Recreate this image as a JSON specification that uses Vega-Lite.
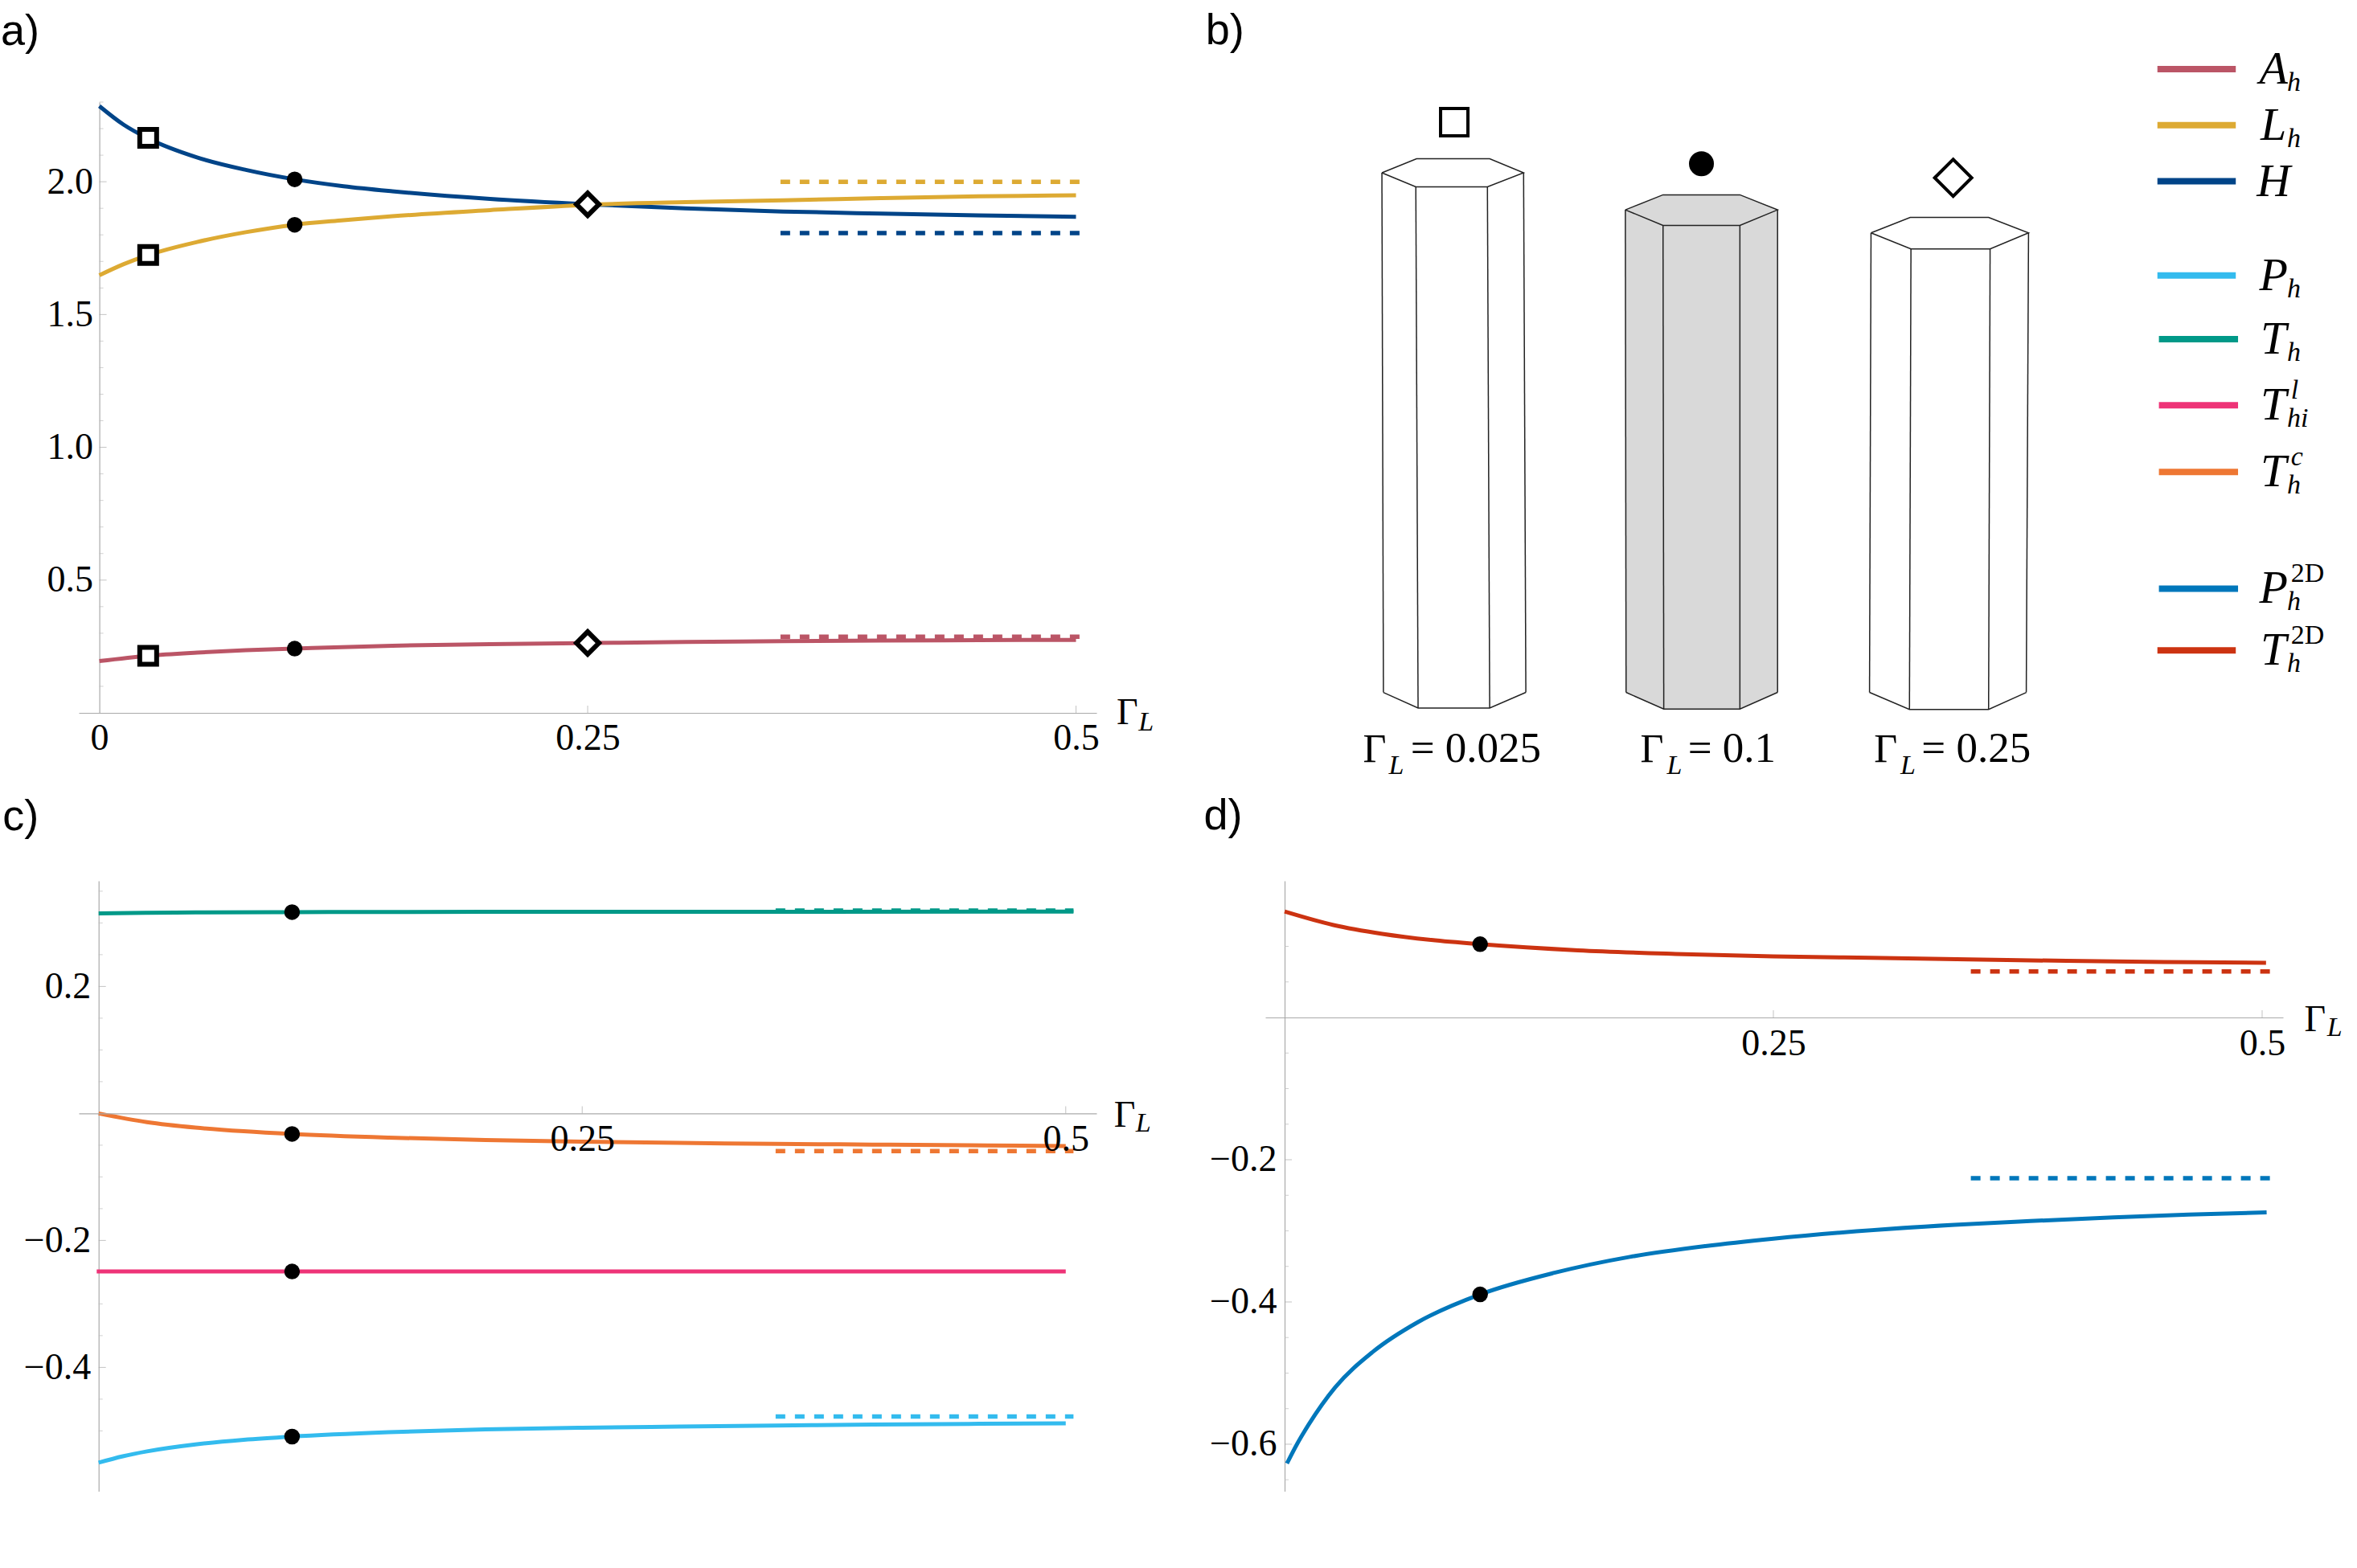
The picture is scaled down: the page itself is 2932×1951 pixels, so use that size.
{
  "$schema": "https://vega.github.io/schema/vega-lite/v6.json",
  "background": "white",
  "padding": {"left": 0, "top": 12, "right": 0, "bottom": 0},
  "columns": 2,
  "bounds": "flush",
  "spacing": {"column": 210, "row": 209},
  "datasets": {
    "a_curves": [
      {"series":"H","x":0,"y":2.285},{"series":"H","x":0.0125,"y":2.2145},{"series":"H","x":0.025,"y":2.163},{"series":"H","x":0.05,"y":2.0915},{"series":"H","x":0.075,"y":2.0445},{"series":"H","x":0.1,"y":2.009},{"series":"H","x":0.125,"y":1.983},{"series":"H","x":0.15,"y":1.964},{"series":"H","x":0.2,"y":1.935},{"series":"H","x":0.25,"y":1.915},{"series":"H","x":0.3,"y":1.9},{"series":"H","x":0.35,"y":1.888},{"series":"H","x":0.4,"y":1.88},{"series":"H","x":0.45,"y":1.873},{"series":"H","x":0.5,"y":1.868},
      {"series":"L","x":0,"y":1.648},{"series":"L","x":0.0125,"y":1.69},{"series":"L","x":0.025,"y":1.724},{"series":"L","x":0.05,"y":1.773},{"series":"L","x":0.075,"y":1.81},{"series":"L","x":0.1,"y":1.838},{"series":"L","x":0.125,"y":1.855},{"series":"L","x":0.15,"y":1.87},{"series":"L","x":0.2,"y":1.893},{"series":"L","x":0.25,"y":1.913},{"series":"L","x":0.3,"y":1.923},{"series":"L","x":0.35,"y":1.93},{"series":"L","x":0.4,"y":1.938},{"series":"L","x":0.45,"y":1.945},{"series":"L","x":0.5,"y":1.949},
      {"series":"A","x":0,"y":0.195},{"series":"A","x":0.025,"y":0.215},{"series":"A","x":0.05,"y":0.227},{"series":"A","x":0.075,"y":0.236},{"series":"A","x":0.1,"y":0.242},{"series":"A","x":0.15,"y":0.253},{"series":"A","x":0.2,"y":0.259},{"series":"A","x":0.25,"y":0.263},{"series":"A","x":0.3,"y":0.267},{"series":"A","x":0.35,"y":0.27},{"series":"A","x":0.4,"y":0.272},{"series":"A","x":0.45,"y":0.274},{"series":"A","x":0.5,"y":0.275}
    ],
    "a_limits": [
      {"series":"L","x":0.3487,"y":2.0},{"series":"L","x":0.503,"y":2.0},
      {"series":"H","x":0.3487,"y":1.807},{"series":"H","x":0.503,"y":1.807},
      {"series":"A","x":0.3487,"y":0.287},{"series":"A","x":0.503,"y":0.287}
    ],
    "a_marks": [
      {"marker":"square","x":0.025,"y":2.165},{"marker":"square","x":0.025,"y":1.724},{"marker":"square","x":0.025,"y":0.215},
      {"marker":"circle","x":0.1,"y":2.009},{"marker":"circle","x":0.1,"y":1.838},{"marker":"circle","x":0.1,"y":0.242},
      {"marker":"diamond","x":0.25,"y":1.915},{"marker":"diamond","x":0.25,"y":0.263}
    ],
    "a_ticks": [
      {"kind":"x","x":0.25,"y":0},{"kind":"x","x":0.5,"y":0},
      {"kind":"major","x":0,"y":0.5},{"kind":"major","x":0,"y":1},{"kind":"major","x":0,"y":1.5},{"kind":"major","x":0,"y":2},
      {"kind":"minor","x":0,"y":0.1},{"kind":"minor","x":0,"y":0.2},{"kind":"minor","x":0,"y":0.3},{"kind":"minor","x":0,"y":0.4},{"kind":"minor","x":0,"y":0.6},{"kind":"minor","x":0,"y":0.7},{"kind":"minor","x":0,"y":0.8},{"kind":"minor","x":0,"y":0.9},{"kind":"minor","x":0,"y":1.1},{"kind":"minor","x":0,"y":1.2},{"kind":"minor","x":0,"y":1.3},{"kind":"minor","x":0,"y":1.4},{"kind":"minor","x":0,"y":1.6},{"kind":"minor","x":0,"y":1.7},{"kind":"minor","x":0,"y":1.8},{"kind":"minor","x":0,"y":1.9},{"kind":"minor","x":0,"y":2.1},{"kind":"minor","x":0,"y":2.2},{"kind":"minor","x":0,"y":2.3}
    ],
    "c_curves": [
      {"series":"T","x":0,"y":0.315},{"series":"T","x":0.025,"y":0.316},{"series":"T","x":0.05,"y":0.3165},{"series":"T","x":0.1,"y":0.317},{"series":"T","x":0.2,"y":0.3175},{"series":"T","x":0.35,"y":0.3175},{"series":"T","x":0.504,"y":0.318},
      {"series":"Tc","x":0,"y":0},{"series":"Tc","x":0.025,"y":-0.0137},{"series":"Tc","x":0.05,"y":-0.0223},{"series":"Tc","x":0.075,"y":-0.0281},{"series":"Tc","x":0.1,"y":-0.0324},{"series":"Tc","x":0.15,"y":-0.0381},{"series":"Tc","x":0.2,"y":-0.0419},{"series":"Tc","x":0.25,"y":-0.0445},{"series":"Tc","x":0.3,"y":-0.0465},{"series":"Tc","x":0.35,"y":-0.0479},{"series":"Tc","x":0.4,"y":-0.0491},{"series":"Tc","x":0.45,"y":-0.0503},{"series":"Tc","x":0.5,"y":-0.0514},
      {"series":"Thi","x":-0.001,"y":-0.249},{"series":"Thi","x":0.1,"y":-0.249},{"series":"Thi","x":0.25,"y":-0.249},{"series":"Thi","x":0.5,"y":-0.249},
      {"series":"P","x":0,"y":-0.55},{"series":"P","x":0.0125,"y":-0.54},{"series":"P","x":0.025,"y":-0.5323},{"series":"P","x":0.05,"y":-0.5214},{"series":"P","x":0.075,"y":-0.5141},{"series":"P","x":0.1,"y":-0.509},{"series":"P","x":0.15,"y":-0.5021},{"series":"P","x":0.2,"y":-0.4976},{"series":"P","x":0.25,"y":-0.495},{"series":"P","x":0.3,"y":-0.4933},{"series":"P","x":0.35,"y":-0.4917},{"series":"P","x":0.4,"y":-0.49},{"series":"P","x":0.45,"y":-0.489},{"series":"P","x":0.5,"y":-0.488}
    ],
    "c_limits": [
      {"series":"T","x":0.35,"y":0.3194},{"series":"T","x":0.504,"y":0.3194},
      {"series":"Tc","x":0.35,"y":-0.0593},{"series":"Tc","x":0.504,"y":-0.0593},
      {"series":"P","x":0.35,"y":-0.4775},{"series":"P","x":0.504,"y":-0.4775}
    ],
    "c_marks": [
      {"x":0.1,"y":0.317},{"x":0.1,"y":-0.0324},{"x":0.1,"y":-0.249},{"x":0.1,"y":-0.509}
    ],
    "c_ticks": [
      {"kind":"x","x":0.25,"y":0},{"kind":"x","x":0.5,"y":0},
      {"kind":"major","x":0,"y":0.2},{"kind":"major","x":0,"y":-0.2},{"kind":"major","x":0,"y":-0.4},
      {"kind":"minor","x":0,"y":0.35},{"kind":"minor","x":0,"y":0.3},{"kind":"minor","x":0,"y":0.25},{"kind":"minor","x":0,"y":0.15},{"kind":"minor","x":0,"y":0.1},{"kind":"minor","x":0,"y":0.05},{"kind":"minor","x":0,"y":-0.05},{"kind":"minor","x":0,"y":-0.1},{"kind":"minor","x":0,"y":-0.15},{"kind":"minor","x":0,"y":-0.25},{"kind":"minor","x":0,"y":-0.3},{"kind":"minor","x":0,"y":-0.35},{"kind":"minor","x":0,"y":-0.45},{"kind":"minor","x":0,"y":-0.5},{"kind":"minor","x":0,"y":-0.55}
    ],
    "d_curves": [
      {"series":"T2D","x":0,"y":0.149},{"series":"T2D","x":0.025,"y":0.13},{"series":"T2D","x":0.05,"y":0.1176},{"series":"T2D","x":0.075,"y":0.109},{"series":"T2D","x":0.1,"y":0.103},{"series":"T2D","x":0.15,"y":0.0944},{"series":"T2D","x":0.2,"y":0.0894},{"series":"T2D","x":0.25,"y":0.0859},{"series":"T2D","x":0.3,"y":0.0838},{"series":"T2D","x":0.35,"y":0.0817},{"series":"T2D","x":0.4,"y":0.0796},{"series":"T2D","x":0.45,"y":0.078},{"series":"T2D","x":0.502,"y":0.0768},
      {"series":"P2D","x":0.0012,"y":-0.627},{"series":"P2D","x":0.0066,"y":-0.5986},{"series":"P2D","x":0.0124,"y":-0.572},{"series":"P2D","x":0.0259,"y":-0.52},{"series":"P2D","x":0.0452,"y":-0.47},{"series":"P2D","x":0.0684,"y":-0.428},{"series":"P2D","x":0.1,"y":-0.3894},{"series":"P2D","x":0.138,"y":-0.359},{"series":"P2D","x":0.1766,"y":-0.3366},{"series":"P2D","x":0.2152,"y":-0.3215},{"series":"P2D","x":0.25,"y":-0.311},{"series":"P2D","x":0.2925,"y":-0.3007},{"series":"P2D","x":0.3427,"y":-0.2915},{"series":"P2D","x":0.3814,"y":-0.2862},{"series":"P2D","x":0.4239,"y":-0.281},{"series":"P2D","x":0.4625,"y":-0.2772},{"series":"P2D","x":0.5023,"y":-0.274}
    ],
    "d_limits": [
      {"series":"T2D","x":0.351,"y":0.0648},{"series":"T2D","x":0.5046,"y":0.0648},
      {"series":"P2D","x":0.351,"y":-0.226},{"series":"P2D","x":0.5046,"y":-0.226}
    ],
    "d_marks": [{"x":0.1,"y":0.103},{"x":0.1,"y":-0.3894}],
    "d_ticks": [
      {"kind":"x","x":0.25,"y":0},{"kind":"x","x":0.5,"y":0},
      {"kind":"major","x":0,"y":-0.2},{"kind":"major","x":0,"y":-0.4},{"kind":"major","x":0,"y":-0.6},
      {"kind":"minor","x":0,"y":0.1},{"kind":"minor","x":0,"y":0.05},{"kind":"minor","x":0,"y":-0.05},{"kind":"minor","x":0,"y":-0.1},{"kind":"minor","x":0,"y":-0.15},{"kind":"minor","x":0,"y":-0.25},{"kind":"minor","x":0,"y":-0.3},{"kind":"minor","x":0,"y":-0.35},{"kind":"minor","x":0,"y":-0.45},{"kind":"minor","x":0,"y":-0.5},{"kind":"minor","x":0,"y":-0.55},{"kind":"minor","x":0,"y":-0.65}
    ],
    "b_fill": [
      {"x":595,"y":422,"y2":1385},{"x":645,"y":392,"y2":1418},{"x":747,"y":392,"y2":1418},{"x":797,"y":422,"y2":1385}
    ],
    "b_edges": [
      {"edge":"1top","x":272,"y":348},{"edge":"1top","x":318,"y":320},{"edge":"1top","x":415,"y":320},{"edge":"1top","x":460,"y":348},{"edge":"1top","x":412,"y":376},{"edge":"1top","x":317,"y":376},{"edge":"1top","x":272,"y":348},
      {"edge":"1base","x":274,"y":1385},{"edge":"1base","x":320,"y":1416},{"edge":"1base","x":415,"y":1416},{"edge":"1base","x":463,"y":1385},
      {"edge":"1a","x":272,"y":348},{"edge":"1a","x":274,"y":1385},{"edge":"1b","x":317,"y":376},{"edge":"1b","x":320,"y":1416},{"edge":"1c","x":412,"y":376},{"edge":"1c","x":415,"y":1416},{"edge":"1d","x":460,"y":348},{"edge":"1d","x":463,"y":1385},
      {"edge":"2top","x":595,"y":422},{"edge":"2top","x":645,"y":392},{"edge":"2top","x":747,"y":392},{"edge":"2top","x":797,"y":422},{"edge":"2top","x":747,"y":453},{"edge":"2top","x":645,"y":453},{"edge":"2top","x":595,"y":422},
      {"edge":"2base","x":596,"y":1385},{"edge":"2base","x":646,"y":1418},{"edge":"2base","x":747,"y":1418},{"edge":"2base","x":797,"y":1385},
      {"edge":"2a","x":595,"y":422},{"edge":"2a","x":596,"y":1385},{"edge":"2b","x":645,"y":453},{"edge":"2b","x":646,"y":1418},{"edge":"2c","x":747,"y":453},{"edge":"2c","x":747,"y":1418},{"edge":"2d","x":797,"y":422},{"edge":"2d","x":797,"y":1385},
      {"edge":"3top","x":921,"y":468},{"edge":"3top","x":973,"y":437},{"edge":"3top","x":1077,"y":437},{"edge":"3top","x":1130,"y":468},{"edge":"3top","x":1079,"y":500},{"edge":"3top","x":974,"y":500},{"edge":"3top","x":921,"y":468},
      {"edge":"3base","x":919,"y":1385},{"edge":"3base","x":972,"y":1419},{"edge":"3base","x":1077,"y":1419},{"edge":"3base","x":1127,"y":1385},
      {"edge":"3a","x":921,"y":468},{"edge":"3a","x":919,"y":1385},{"edge":"3b","x":974,"y":500},{"edge":"3b","x":972,"y":1419},{"edge":"3c","x":1079,"y":500},{"edge":"3c","x":1077,"y":1419},{"edge":"3d","x":1130,"y":468},{"edge":"3d","x":1127,"y":1385}
    ],
    "b_legend": [
      {"series":"A","x":1301,"x2":1405,"y":141,"main":"A","sub":"h","sup":""},
      {"series":"L","x":1301,"x2":1405,"y":253,"main":"L","sub":"h","sup":""},
      {"series":"H","x":1301,"x2":1405,"y":365,"main":"H","sub":"","sup":""},
      {"series":"P","x":1301,"x2":1405,"y":553,"main":"P","sub":"h","sup":""},
      {"series":"T","x":1303,"x2":1408,"y":680,"main":"T","sub":"h","sup":""},
      {"series":"Thi","x":1303,"x2":1408,"y":812,"main":"T","sub":"hi","sup":"l"},
      {"series":"Tc","x":1303,"x2":1408,"y":945,"main":"T","sub":"h","sup":"c"},
      {"series":"P2D","x":1303,"x2":1408,"y":1178,"main":"P","sub":"h","sup":"2D"},
      {"series":"T2D","x":1301,"x2":1405,"y":1301,"main":"T","sub":"h","sup":"2D"}
    ]
  },
  "concat": [
    {
      "width": 1266,
      "height": 760,
      "encoding": {
        "x": {"field":"x","type":"quantitative","scale":{"domain":[-0.01053,0.5105],"nice":false,"zero":false},"axis":{"title":null,"values":[0,0.25,0.5],"format":".2~f","labelPadding":9,"grid":false,"ticks":false,"labelFlush":false,"labelOverlap":false}},
        "y": {"field":"y","type":"quantitative","scale":{"domain":[0,2.3],"nice":false,"zero":false},"axis":{"title":null,"values":[0.5,1,1.5,2],"format":".1f","offset":-25.6,"labelPadding":8,"grid":false,"ticks":false,"labelFlush":false,"labelOverlap":false}}
      },
      "layer": [
        {"data":{"name":"a_ticks"},"transform":[{"filter":"datum.kind=='minor'"}],"mark":{"type":"tick","orient":"horizontal","size":5,"thickness":1,"color":"#bbbbbb","xOffset":2.5}},
        {"data":{"name":"a_ticks"},"transform":[{"filter":"datum.kind=='major'"}],"mark":{"type":"tick","orient":"horizontal","size":9,"thickness":1,"color":"#aaaaaa","xOffset":4.5}},
        {"data":{"name":"a_ticks"},"transform":[{"filter":"datum.kind=='x'"}],"mark":{"type":"tick","orient":"vertical","size":9,"thickness":1,"color":"#aaaaaa","yOffset":-4.5}},
        {"data":{"name":"a_curves"},"mark":{"type":"line","strokeWidth":5,"interpolate":"monotone"},"encoding":{"color":{"field":"series","type":"nominal","legend":null,"scale":{"domain":["A","L","H","P","T","Thi","Tc","P2D","T2D"],"range":["#BB5566","#DDAA33","#004488","#33BBEE","#009988","#EE3377","#EE7733","#0077BB","#CC3311"]}}}},
        {"data":{"name":"a_limits"},"mark":{"type":"line","strokeWidth":5.5,"strokeDash":[12,12]},"encoding":{"color":{"field":"series","type":"nominal","legend":null,"scale":{"domain":["A","L","H","P","T","Thi","Tc","P2D","T2D"],"range":["#BB5566","#DDAA33","#004488","#33BBEE","#009988","#EE3377","#EE7733","#0077BB","#CC3311"]}}}},
        {"data":{"name":"a_marks"},"transform":[{"filter":"datum.marker=='square'"}],"mark":{"type":"point","shape":"square","filled":true,"fill":"white","stroke":"black","strokeWidth":6,"size":441,"opacity":1}},
        {"data":{"name":"a_marks"},"transform":[{"filter":"datum.marker=='circle'"}],"mark":{"type":"circle","color":"black","size":380,"opacity":1}},
        {"data":{"name":"a_marks"},"transform":[{"filter":"datum.marker=='diamond'"}],"mark":{"type":"point","shape":"diamond","filled":true,"fill":"white","stroke":"black","strokeWidth":6,"size":784,"opacity":1}},
        {"data":{"values":[{"x":0.5208,"y":-0.0435,"text":"Γ"}]},"mark":{"type":"text","align":"left","baseline":"alphabetic","font":"Liberation Serif","fontSize":46,"color":"black"},"encoding":{"text":{"field":"text"}}},
        {"data":{"values":[{"x":0.532,"y":-0.066,"text":"L"}]},"mark":{"type":"text","align":"left","baseline":"alphabetic","font":"Liberation Serif","fontStyle":"italic","fontSize":34,"color":"black"},"encoding":{"text":{"field":"text"}}},
        {"data":{"values":[{"x":-0.0505,"y":2.514,"text":"a)"}]},"mark":{"type":"text","align":"left","baseline":"alphabetic","font":"Liberation Sans","fontSize":54,"color":"black"},"encoding":{"text":{"field":"text"}}}
      ]
    },
    {
      "width": 1266,
      "height": 760,
      "encoding": {
        "x": {"field":"x","type":"quantitative","scale":{"domain":[117.3,1467.7],"nice":false,"zero":false},"axis":null},
        "y": {"field":"y","type":"quantitative","scale":{"domain":[1425.8,206.9],"nice":false,"zero":false},"axis":null}
      },
      "layer": [
        {"data":{"name":"b_fill"},"mark":{"type":"area","orient":"vertical","color":"#d9d9d9","opacity":1},"encoding":{"y2":{"field":"y2"}}},
        {"data":{"name":"b_edges"},"mark":{"type":"line","strokeWidth":1.5,"color":"#222222"},"encoding":{"detail":{"field":"edge"},"order":{"value":null}}},
        {"data":{"values":[{"x":368,"y":247}]},"mark":{"type":"point","shape":"square","filled":true,"fill":"white","stroke":"black","strokeWidth":4,"size":1156,"opacity":1}},
        {"data":{"values":[{"x":696,"y":330}]},"mark":{"type":"circle","color":"black","size":960,"opacity":1}},
        {"data":{"values":[{"x":1030,"y":358}]},"mark":{"type":"point","shape":"diamond","filled":true,"fill":"white","stroke":"black","strokeWidth":4,"size":2116,"opacity":1}},
        {"data":{"values":[{"x":247,"y":1523,"text":"Γ"},{"x":615,"y":1523,"text":"Γ"},{"x":925,"y":1523,"text":"Γ"}]},"mark":{"type":"text","align":"left","baseline":"alphabetic","font":"Liberation Serif","fontSize":50,"color":"black"},"encoding":{"text":{"field":"text"}}},
        {"data":{"values":[{"x":310,"y":1523,"text":"= 0.025"},{"x":678,"y":1523,"text":"= 0.1"},{"x":988,"y":1523,"text":"= 0.25"}]},"mark":{"type":"text","align":"left","baseline":"alphabetic","font":"Liberation Serif","fontSize":53,"color":"black"},"encoding":{"text":{"field":"text"}}},
        {"data":{"values":[{"x":281,"y":1548,"text":"L"},{"x":650,"y":1548,"text":"L"},{"x":960,"y":1548,"text":"L"}]},"mark":{"type":"text","align":"left","baseline":"alphabetic","font":"Liberation Serif","fontStyle":"italic","fontSize":34,"color":"black"},"encoding":{"text":{"field":"text"}}},
        {"data":{"values":[{"x":38,"y":92,"text":"b)"}]},"mark":{"type":"text","align":"left","baseline":"alphabetic","font":"Liberation Sans","fontSize":54,"color":"black"},"encoding":{"text":{"field":"text"}}},
        {"data":{"name":"b_legend"},"mark":{"type":"rule","strokeWidth":8},"encoding":{"x2":{"field":"x2"},"color":{"field":"series","type":"nominal","legend":null,"scale":{"domain":["A","L","H","P","T","Thi","Tc","P2D","T2D"],"range":["#BB5566","#DDAA33","#004488","#33BBEE","#009988","#EE3377","#EE7733","#0077BB","#CC3311"]}}}},
        {"data":{"name":"b_legend"},"mark":{"type":"text","align":"center","baseline":"alphabetic","dy":18,"font":"Liberation Serif","fontStyle":"italic","fontSize":58,"color":"black"},"encoding":{"x":{"datum":1455},"text":{"field":"main"}}},
        {"data":{"name":"b_legend"},"mark":{"type":"text","align":"left","baseline":"alphabetic","dy":27,"font":"Liberation Serif","fontStyle":"italic","fontSize":34,"color":"black"},"encoding":{"x":{"datum":1473},"text":{"field":"sub"}}},
        {"data":{"name":"b_legend"},"transform":[{"filter":"datum.sup=='l'||datum.sup=='c'"}],"mark":{"type":"text","align":"left","baseline":"alphabetic","dy":-8,"font":"Liberation Serif","fontStyle":"italic","fontSize":34,"color":"black"},"encoding":{"x":{"datum":1478},"text":{"field":"sup"}}},
        {"data":{"name":"b_legend"},"transform":[{"filter":"datum.sup=='2D'"}],"mark":{"type":"text","align":"left","baseline":"alphabetic","dy":-8,"font":"Liberation Serif","fontSize":34,"color":"black"},"encoding":{"x":{"datum":1478},"text":{"field":"sup"}}}
      ]
    },
    {
      "width": 1266,
      "height": 760,
      "encoding": {
        "x": {"field":"x","type":"quantitative","scale":{"domain":[-0.01027,0.5159],"nice":false,"zero":false},"axis":{"title":null,"values":[0.25,0.5],"format":".2~f","offset":-470.6,"labelPadding":10,"grid":false,"ticks":false,"labelFlush":false,"labelOverlap":false,"zindex":1}},
        "y": {"field":"y","type":"quantitative","scale":{"domain":[-0.5957,0.3663],"nice":false,"zero":false},"axis":{"title":null,"values":[0.2,-0.2,-0.4],"format":".1f","offset":-24.7,"labelPadding":10,"grid":false,"ticks":false,"labelFlush":false,"labelOverlap":false}}
      },
      "layer": [
        {"data":{"name":"c_ticks"},"transform":[{"filter":"datum.kind=='minor'"}],"mark":{"type":"tick","orient":"horizontal","size":5,"thickness":1,"color":"#bbbbbb","xOffset":2.5}},
        {"data":{"name":"c_ticks"},"transform":[{"filter":"datum.kind=='major'"}],"mark":{"type":"tick","orient":"horizontal","size":9,"thickness":1,"color":"#aaaaaa","xOffset":4.5}},
        {"data":{"name":"c_ticks"},"transform":[{"filter":"datum.kind=='x'"}],"mark":{"type":"tick","orient":"vertical","size":9,"thickness":1,"color":"#aaaaaa","yOffset":-4.5}},
        {"data":{"name":"c_limits"},"mark":{"type":"line","strokeWidth":5.5,"strokeDash":[12,12]},"encoding":{"color":{"field":"series","type":"nominal","legend":null,"scale":{"domain":["A","L","H","P","T","Thi","Tc","P2D","T2D"],"range":["#BB5566","#DDAA33","#004488","#33BBEE","#009988","#EE3377","#EE7733","#0077BB","#CC3311"]}}}},
        {"data":{"name":"c_curves"},"mark":{"type":"line","strokeWidth":5,"interpolate":"monotone"},"encoding":{"color":{"field":"series","type":"nominal","legend":null,"scale":{"domain":["A","L","H","P","T","Thi","Tc","P2D","T2D"],"range":["#BB5566","#DDAA33","#004488","#33BBEE","#009988","#EE3377","#EE7733","#0077BB","#CC3311"]}}}},
        {"data":{"name":"c_marks"},"mark":{"type":"circle","color":"black","size":380,"opacity":1}},
        {"data":{"values":[{"x":0.5249,"y":-0.0206,"text":"Γ"}]},"mark":{"type":"text","align":"left","baseline":"alphabetic","font":"Liberation Serif","fontSize":46,"color":"black"},"encoding":{"text":{"field":"text"}}},
        {"data":{"values":[{"x":0.5362,"y":-0.0285,"text":"L"}]},"mark":{"type":"text","align":"left","baseline":"alphabetic","font":"Liberation Serif","fontStyle":"italic","fontSize":34,"color":"black"},"encoding":{"text":{"field":"text"}}},
        {"data":{"values":[{"x":-0.0497,"y":0.4458,"text":"c)"}]},"mark":{"type":"text","align":"left","baseline":"alphabetic","font":"Liberation Sans","fontSize":54,"color":"black"},"encoding":{"text":{"field":"text"}}}
      ]
    },
    {
      "width": 1266,
      "height": 760,
      "encoding": {
        "x": {"field":"x","type":"quantitative","scale":{"domain":[-0.00987,0.5107],"nice":false,"zero":false},"axis":{"title":null,"values":[0.25,0.5],"format":".2~f","offset":-590,"labelPadding":10,"grid":false,"ticks":false,"labelFlush":false,"labelOverlap":false}},
        "y": {"field":"y","type":"quantitative","scale":{"domain":[-0.6667,0.1921],"nice":false,"zero":false},"axis":{"title":null,"values":[-0.2,-0.4,-0.6],"format":".1f","offset":-24,"labelPadding":10,"grid":false,"ticks":false,"labelFlush":false,"labelOverlap":false}}
      },
      "layer": [
        {"data":{"name":"d_ticks"},"transform":[{"filter":"datum.kind=='minor'"}],"mark":{"type":"tick","orient":"horizontal","size":5,"thickness":1,"color":"#bbbbbb","xOffset":2.5}},
        {"data":{"name":"d_ticks"},"transform":[{"filter":"datum.kind=='major'"}],"mark":{"type":"tick","orient":"horizontal","size":9,"thickness":1,"color":"#aaaaaa","xOffset":4.5}},
        {"data":{"name":"d_ticks"},"transform":[{"filter":"datum.kind=='x'"}],"mark":{"type":"tick","orient":"vertical","size":9,"thickness":1,"color":"#aaaaaa","yOffset":-4.5}},
        {"data":{"name":"d_limits"},"mark":{"type":"line","strokeWidth":5.5,"strokeDash":[12,12]},"encoding":{"color":{"field":"series","type":"nominal","legend":null,"scale":{"domain":["A","L","H","P","T","Thi","Tc","P2D","T2D"],"range":["#BB5566","#DDAA33","#004488","#33BBEE","#009988","#EE3377","#EE7733","#0077BB","#CC3311"]}}}},
        {"data":{"name":"d_curves"},"mark":{"type":"line","strokeWidth":5,"interpolate":"monotone"},"encoding":{"color":{"field":"series","type":"nominal","legend":null,"scale":{"domain":["A","L","H","P","T","Thi","Tc","P2D","T2D"],"range":["#BB5566","#DDAA33","#004488","#33BBEE","#009988","#EE3377","#EE7733","#0077BB","#CC3311"]}}}},
        {"data":{"name":"d_marks"},"mark":{"type":"circle","color":"black","size":380,"opacity":1}},
        {"data":{"values":[{"x":0.5216,"y":-0.019,"text":"Γ"}]},"mark":{"type":"text","align":"left","baseline":"alphabetic","font":"Liberation Serif","fontSize":46,"color":"black"},"encoding":{"text":{"field":"text"}}},
        {"data":{"values":[{"x":0.5332,"y":-0.026,"text":"L"}]},"mark":{"type":"text","align":"left","baseline":"alphabetic","font":"Liberation Serif","fontStyle":"italic","fontSize":34,"color":"black"},"encoding":{"text":{"field":"text"}}},
        {"data":{"values":[{"x":-0.0413,"y":0.264,"text":"d)"}]},"mark":{"type":"text","align":"left","baseline":"alphabetic","font":"Liberation Sans","fontSize":54,"color":"black"},"encoding":{"text":{"field":"text"}}}
      ]
    }
  ],
  "config": {
    "view": {"stroke": null},
    "axis": {
      "labelFont": "Liberation Serif",
      "labelFontSize": 46,
      "labelColor": "black",
      "domainColor": "#aaaaaa",
      "domainWidth": 1.2
    }
  }
}
